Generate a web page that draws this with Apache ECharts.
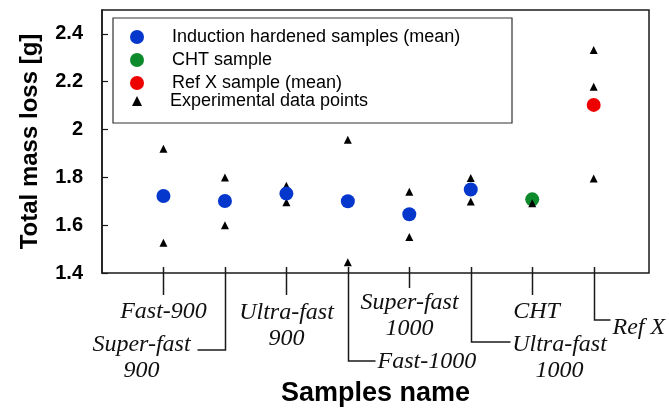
<!DOCTYPE html>
<html>
<head>
<meta charset="utf-8">
<script src="https://cdn.jsdelivr.net/npm/echarts@6/dist/echarts.min.js"></script>
<style>
  html, body { margin: 0; padding: 0; background: #fff; }
  #chart { width: 669px; height: 412px; }
</style>
</head>
<body>
<div id="chart"></div>
<script>
// Sample names along the x axis (positions 1..8)
const categories = ['Fast-900', 'Super-fast\n900', 'Ultra-fast\n900', 'Fast-1000',
                    'Super-fast\n1000', 'Ultra-fast\n1000', 'CHT', 'Ref X'];

// Mean total mass loss [g]
const inductionMeans = [1.722, 1.701, 1.732, 1.700, 1.646, 1.749]; // samples 1..6
const chtMean = [1.708];   // sample 7
const refXMean = [2.103];  // sample 8

// Individual measurements per sample [g]
const experimentalPoints = [
  [1.920, 1.526],
  [1.799, 1.600],
  [1.765, 1.696],
  [1.957, 1.445],
  [1.740, 1.551],
  [1.797, 1.699],
  [1.692],
  [2.333, 2.179, 1.795]
];

const yTicks = [1.4, 1.6, 1.8, 2.0, 2.2, 2.4];

const seriesNames = ['Induction hardened samples (mean)', 'CHT sample',
                     'Ref X sample (mean)', 'Experimental data points'];

// Leader line / label layout under the axis, per category (pixels)
const labelLayout = [
  { drop: 22, hook: 0,   dx: 0,   dy: 39, align: 'center' },
  { drop: 77, hook: -28, dx: -84, dy: 72, align: 'center' },
  { drop: 22, hook: 0,   dx: 0,   dy: 40, align: 'center' },
  { drop: 88, hook: 27,  dx: 29,  dy: 89, align: 'left' },
  { drop: 15, hook: 0,   dx: 0,   dy: 30, align: 'center' },
  { drop: 69, hook: 39,  dx: 88,  dy: 72, align: 'center' },
  { drop: 22, hook: 0,   dx: 4,   dy: 39, align: 'center' },
  { drop: 47, hook: 16,  dx: 18,  dy: 55, align: 'left' }
];

const yMin = yTicks[0];
const yMax = 2.5;

const ihData = inductionMeans.map((v, i) => [i + 1, v]);
const chtData = chtMean.map(v => [7, v]);
const refData = refXMean.map(v => [8, v]);
const expData = [];
experimentalPoints.forEach((vals, i) => vals.forEach(v => expData.push([i + 1, v])));
const catData = categories.map((c, i) => [i + 1, yMin]);

const chart = echarts.init(document.getElementById('chart'), null, { renderer: 'canvas' });

const LINE = '#1a1a1a';
const labelFont = 'italic 24px "Liberation Serif", "Times New Roman", serif';

chart.setOption({
  animation: false,
  backgroundColor: '#fff',
  grid: {
    left: 102, right: 20, top: 10, bottom: 139,
    outerBoundsMode: 'none', containLabel: false,
    show: true, borderColor: LINE, borderWidth: 1.5, backgroundColor: 'transparent'
  },
  xAxis: {
    type: 'value', min: 0, max: 8.9,
    axisLine: { show: false }, axisTick: { show: false },
    axisLabel: { show: false }, splitLine: { show: false },
    name: 'Samples name', nameLocation: 'middle', nameGap: 107,
    nameTextStyle: { fontFamily: '"Liberation Sans", Arial, sans-serif', fontWeight: 'bold', fontSize: 27, color: '#000' }
  },
  yAxis: {
    type: 'value', min: yMin, max: yMax, interval: 0.2,
    axisLine: { show: true, lineStyle: { color: LINE, width: 1.5 } },
    axisTick: { show: true, inside: true, length: 6, lineStyle: { color: LINE, width: 1.2 } },
    splitLine: { show: false },
    axisLabel: {
      showMaxLabel: false, margin: 19,
      fontFamily: '"Liberation Sans", Arial, sans-serif', fontWeight: 'bold', fontSize: 20, color: '#000',
      formatter: v => String(Math.round(v * 10) / 10)
    },
    name: 'Total mass loss [g]', nameLocation: 'middle', nameGap: 60,
    nameTextStyle: { fontFamily: '"Liberation Sans", Arial, sans-serif', fontWeight: 'bold', fontSize: 24, color: '#000' }
  },
  legend: [
    {
      data: seriesNames.slice(0, 3), orient: 'vertical',
      left: 130, top: 28, padding: 0, itemGap: 5,
      itemWidth: 14, itemHeight: 14, icon: 'circle',
      formatter: n => '{t|' + n + '}',
      textStyle: {
        rich: { t: { fontFamily: '"Liberation Sans", Arial, sans-serif', fontSize: 18, lineHeight: 18, color: '#000', padding: [0, 0, 0, 23] } }
      },
      selectedMode: false
    },
    {
      data: seriesNames.slice(3), orient: 'vertical',
      left: 132, top: 92, padding: 0,
      itemWidth: 10, itemHeight: 10, icon: 'triangle',
      formatter: n => '{t|' + n + '}',
      textStyle: {
        rich: { t: { fontFamily: '"Liberation Sans", Arial, sans-serif', fontSize: 18, lineHeight: 18, color: '#000', padding: [0, 0, 0, 23] } }
      },
      selectedMode: false
    }
  ],
  graphic: [
    { type: 'rect', shape: { x: 113, y: 18, width: 399, height: 105 },
      style: { fill: 'none', stroke: '#333', lineWidth: 1.2 }, z: 1 }
  ],
  series: [
    {
      name: seriesNames[1], type: 'scatter', data: chtData,
      symbol: 'circle', symbolSize: 14, itemStyle: { color: '#0d8a2c', opacity: 1 }, z: 2
    },
    {
      name: seriesNames[3], type: 'scatter', data: expData,
      symbol: 'triangle', symbolSize: 8, itemStyle: { color: '#000', opacity: 1 }, z: 3
    },
    {
      name: seriesNames[0], type: 'scatter', data: ihData,
      symbol: 'circle', symbolSize: 14, itemStyle: { color: '#0537cc', opacity: 1 }, z: 4
    },
    {
      name: seriesNames[2], type: 'scatter', data: refData,
      symbol: 'circle', symbolSize: 14, itemStyle: { color: '#ee0000', opacity: 1 }, z: 4
    },
    {
      // Crossing ticks, leader lines and sample name labels under the axis
      type: 'custom', data: catData, clip: false, silent: true, z: 5,
      renderItem: (params, api) => {
        const i = params.dataIndex;
        const lay = labelLayout[i];
        const p = api.coord([api.value(0), api.value(1)]);
        const x = Math.round(p[0]) + 0.5;
        const y0 = p[1];
        const pts = [[x, y0 - 6], [x, y0 + lay.drop]];
        if (lay.hook) pts.push([x + lay.hook, y0 + lay.drop]);
        return {
          type: 'group',
          children: [
            { type: 'polyline', shape: { points: pts },
              style: { stroke: LINE, lineWidth: 1.5, fill: null } },
            { type: 'text',
              style: {
                text: categories[i], x: x + lay.dx, y: y0 + lay.dy - 13,
                align: lay.align, verticalAlign: 'top',
                font: labelFont, lineHeight: 26, fill: '#111'
              } }
          ]
        };
      }
    }
  ]
});
</script>
</body>
</html>
